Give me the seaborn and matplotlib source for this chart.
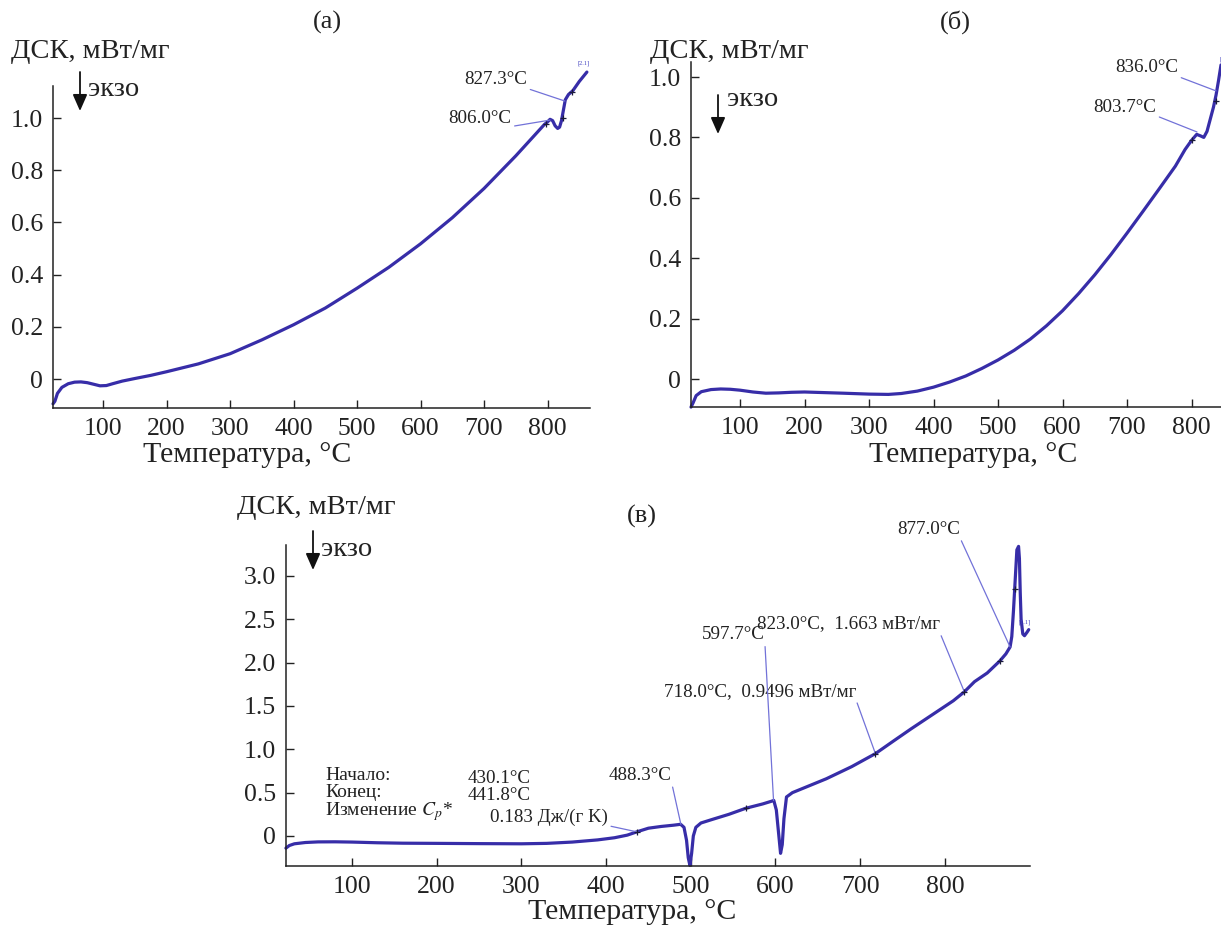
import numpy as np
import pandas as pd
import matplotlib
matplotlib.use("Agg")
import matplotlib.pyplot as plt
import seaborn as sns

# ---------------- data ----------------
# panel (а)
temp_a = [21, 24, 28, 35, 45, 55, 65, 75, 85, 95, 105, 115, 130, 150, 175, 200, 250, 300,
          350, 400, 450, 500, 550, 600, 650, 700, 750, 780, 795, 800, 804, 808, 812, 816,
          819, 822, 825, 828, 833, 840, 850, 862]
dsc_a = [-0.095, -0.085, -0.055, -0.032, -0.018, -0.012, -0.011, -0.014, -0.020, -0.026,
         -0.025, -0.018, -0.008, 0.002, 0.014, 0.028, 0.058, 0.097, 0.150, 0.208, 0.272,
         0.348, 0.428, 0.518, 0.618, 0.730, 0.855, 0.935, 0.975, 0.985, 0.995, 0.990,
         0.970, 0.960, 0.965, 0.990, 1.030, 1.070, 1.090, 1.105, 1.140, 1.176]

# panel (б)
temp_b = [24, 27, 32, 40, 55, 70, 85, 100, 120, 140, 160, 180, 200, 230, 260, 300, 330,
          350, 375, 400, 425, 450, 475, 500, 525, 550, 575, 600, 625, 650, 675, 700, 725,
          750, 775, 790, 800, 808, 814, 819, 824, 829, 834, 838, 842, 845.7]
dsc_b = [-0.093, -0.080, -0.055, -0.042, -0.035, -0.033, -0.034, -0.037, -0.043, -0.047,
         -0.046, -0.044, -0.043, -0.045, -0.047, -0.050, -0.051, -0.048, -0.040, -0.027,
         -0.010, 0.010, 0.035, 0.063, 0.095, 0.132, 0.176, 0.226, 0.283, 0.345, 0.412,
         0.483, 0.556, 0.630, 0.705, 0.760, 0.790, 0.810, 0.805, 0.800, 0.820, 0.860,
         0.900, 0.940, 0.990, 1.040]

# panel (в)
temp_c = [22, 26, 32, 45, 60, 80, 100, 130, 160, 200, 250, 300, 330, 360, 390, 410, 425,
          437, 450, 465, 480, 488, 492, 495, 497, 499, 501, 503, 506, 512, 525, 545, 565,
          585, 595, 598, 601, 604, 606, 608, 610, 613, 620, 640, 660, 690, 718, 740, 760,
          790, 810, 823, 835, 850, 865, 872, 877, 879, 881, 883, 885, 887, 888, 889, 890,
          892, 894, 897, 899]
dsc_c = [-0.14, -0.11, -0.09, -0.075, -0.068, -0.067, -0.070, -0.078, -0.083, -0.085,
         -0.088, -0.090, -0.085, -0.070, -0.045, -0.020, 0.010, 0.050, 0.090, 0.110, 0.125,
         0.135, 0.100, -0.050, -0.250, -0.340, -0.200, 0.000, 0.100, 0.150, 0.190, 0.250,
         0.320, 0.370, 0.400, 0.410, 0.300, 0.000, -0.200, -0.100, 0.200, 0.450, 0.500,
         0.580, 0.660, 0.800, 0.950, 1.100, 1.235, 1.430, 1.560, 1.663, 1.780, 1.880,
         2.020, 2.100, 2.180, 2.300, 2.600, 2.950, 3.300, 3.340, 3.200, 2.800, 2.500,
         2.330, 2.310, 2.350, 2.380]

# small measurement marks on the curves
marks_a_t = [797, 824, 838]
marks_a_v = [0.977, 1.000, 1.100]
marks_b_t = [800, 838]
marks_b_v = [0.790, 0.920]
marks_c_t = [437, 565, 718, 823, 865, 882.6]
marks_c_v = [0.050, 0.320, 0.950, 1.663, 2.020, 2.850]

xticks = [100, 200, 300, 400, 500, 600, 700, 800]
yticks_a = [0, 0.2, 0.4, 0.6, 0.8, 1.0]
yticks_b = [0, 0.2, 0.4, 0.6, 0.8, 1.0]
yticks_c = [0, 0.5, 1.0, 1.5, 2.0, 2.5, 3.0]

ylabel = "ДСК, мВт/мг"
xlabel = "Температура, °C"
exo = "экзо"

# annotations: text, text anchor (data), target point (data)
ann_a = [("827.3°C", (767.7, 1.146), (827.3, 1.065)),
         ("806.0°C", (743.0, 1.000), (804.0, 0.992))]
ann_b = [("836.0°C", (779.0, 1.030), (838.0, 0.954)),
         ("803.7°C", (745.0, 0.900), (808.5, 0.818))]
ann_c = [("877.0°C", (817.7, 3.540), (877.0, 2.180)),
         ("823.0°C,  1.663 мВт/мг", (794.0, 2.445), (823.0, 1.663)),
         ("718.0°C,  0.9496 мВт/мг", (695.0, 1.670), (718.0, 0.950)),
         ("597.7°C", (587.5, 2.320), (597.7, 0.410)),
         ("488.3°C", (477.7, 0.700), (488.3, 0.135)),
         ("0.183 Дж/(г K)", (402.0, 0.220), (437.7, 0.045))]

info_left = "Начало:\nКонец:\nИзменение $C_p$*"
info_right = "430.1°C\n441.8°C"

# ---------------- style ----------------
sns.set_theme(style="ticks")
plt.rcParams["font.family"] = ["Liberation Serif", "DejaVu Serif"]
plt.rcParams["mathtext.fontset"] = "stix"

W, H = 1221, 934
CURVE = "#372da8"
LEAD = "#7272d8"
TXT = "#222222"

fig = plt.figure(figsize=(W / 100, H / 100), dpi=100)


def fx(px):
    return px / W


def fy(py):
    return 1 - py / H


def make_axes(l, t, r, b):
    return fig.add_axes([fx(l), fy(b), (r - l) / W, (b - t) / H])


ax_a = make_axes(53, 86, 590, 408)
ax_b = make_axes(691, 62, 1221, 407)
ax_c = make_axes(286, 545, 1030, 866)


def fmt(v):
    return "0" if v == 0 else f"{v:.1f}"


def style_axis(ax, xlim, ylim, yticks):
    ax.set_xlim(*xlim)
    ax.set_ylim(*ylim)
    ax.set_xticks(xticks)
    ax.set_xticklabels([str(t) for t in xticks])
    ax.set_yticks(yticks)
    ax.set_yticklabels([fmt(v) for v in yticks])
    ax.tick_params(direction="in", length=6, width=1.0, labelsize=18.5,
                   colors=TXT, pad=7)
    sns.despine(ax=ax)
    for s in ("left", "bottom"):
        ax.spines[s].set_linewidth(1.1)
        ax.spines[s].set_color(TXT)
    ax.set_xlabel("")
    ax.set_ylabel("")
    ax.set_facecolor("none")


def draw_curve(ax, t, v, mt, mv):
    df = pd.DataFrame({"T": t, "DSC": v})
    sns.lineplot(data=df, x="T", y="DSC", ax=ax, color=CURVE, lw=2.3,
                 estimator=None, clip_on=False)
    ax.plot(mt, mv, ls="none", marker="+", ms=5, mew=0.9, color="#1a1a3a",
            clip_on=False, zorder=5)


def annotate(ax, items, fs=13.7):
    for text, xyt, xy in items:
        ax.annotate(text, xy=xy, xytext=xyt, textcoords="data",
                    ha="right", va="center", fontsize=fs, color=TXT,
                    annotation_clip=False,
                    arrowprops=dict(arrowstyle="-", color=LEAD, lw=0.9,
                                    shrinkA=0, shrinkB=0, relpos=(1.0, 0.0)))


draw_curve(ax_a, temp_a, dsc_a, marks_a_t, marks_a_v)
draw_curve(ax_b, temp_b, dsc_b, marks_b_t, marks_b_v)
draw_curve(ax_c, temp_c, dsc_c, marks_c_t, marks_c_v)

style_axis(ax_a, (21, 866.9), (-0.111, 1.1226), yticks_a)
style_axis(ax_b, (24, 845.7), (-0.0927, 1.0497), yticks_b)
style_axis(ax_c, (22.1, 900.5), (-0.346, 3.356), yticks_c)

annotate(ax_a, ann_a)
annotate(ax_b, ann_b)
annotate(ax_c, ann_c)

# small bracket labels near curve ends
ax_a.text(856, 1.20, "[2.1]", fontsize=4.5, color="#4040c0", ha="center",
          va="bottom", clip_on=False)
ax_b.text(845, 1.05, "[", fontsize=4.5, color="#4040c0", ha="center",
          va="bottom", clip_on=False)
ax_c.text(894, 2.47, "[1.1]", fontsize=4.5, color="#4040c0", ha="center",
          va="center", clip_on=False)

# info block in panel (в)
fig.text(fx(325), fy(795), info_left, fontsize=14, color=TXT, ha="left",
         va="center", linespacing=0.95)
fig.text(fx(468), fy(787), info_right, fontsize=13.7, color=TXT, ha="left",
         va="center", linespacing=0.95)

# panel titles
fig.text(fx(327), fy(22), "(а)", fontsize=19, color=TXT, ha="center", va="center")
fig.text(fx(955), fy(22), "(б)", fontsize=19, color=TXT, ha="center", va="center")
fig.text(fx(642), fy(516), "(в)", fontsize=19, color=TXT, ha="center", va="center")

# y labels (horizontal above axes)
for px, py in [(11, 52), (650, 52), (237, 507)]:
    fig.text(fx(px), fy(py), ylabel, fontsize=20.5, color=TXT, ha="left", va="center")

# x labels
for px, py in [(247, 455), (973, 455), (632, 912)]:
    fig.text(fx(px), fy(py), xlabel, fontsize=21.5, color=TXT, ha="center", va="center")

# exo arrows
for ax_px, y0, y1, tx, ty in [(80, 72, 111, 88, 89), (718, 95, 134, 727, 100),
                              (313, 531, 570, 321, 549)]:
    fig.add_artist(matplotlib.patches.FancyArrowPatch(
        (fx(ax_px), fy(y0)), (fx(ax_px), fy(y1)), transform=fig.transFigure,
        arrowstyle="-|>,head_length=0.5,head_width=0.22", mutation_scale=20,
        color="#111111", lw=1.3, shrinkA=0, shrinkB=0))
    fig.text(fx(tx), fy(ty), exo, fontsize=20.5, color=TXT, ha="left", va="center")

fig.savefig("out.png", dpi=100)
